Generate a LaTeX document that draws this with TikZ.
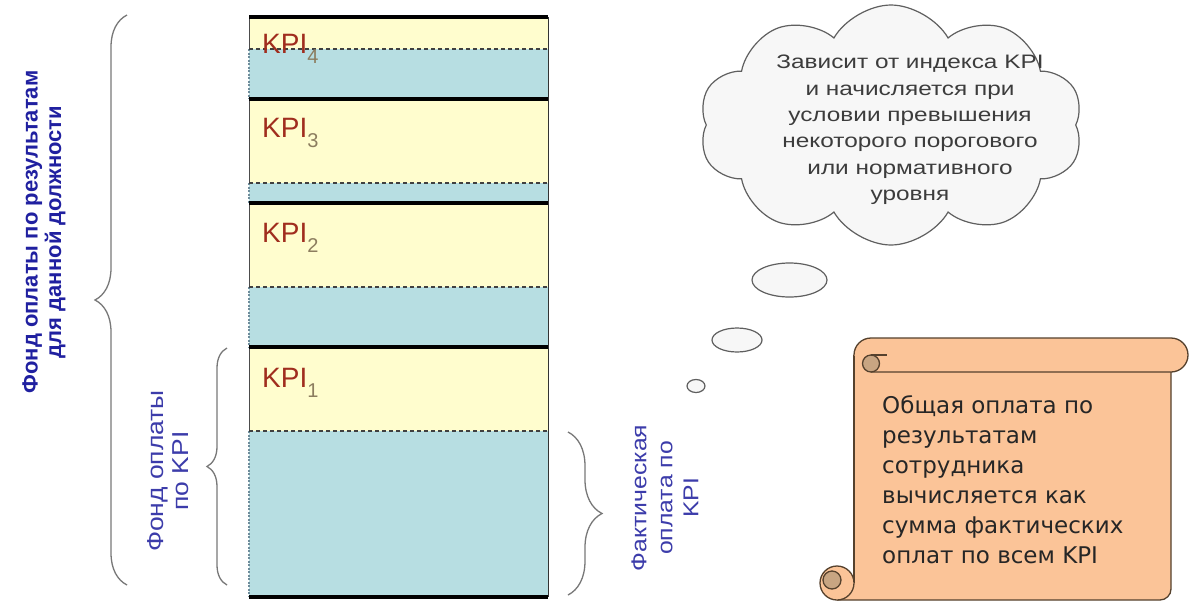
\documentclass[tikz,border=0pt]{standalone}
\usepackage{fontspec}
\setmainfont{Liberation Sans}
\newfontfamily\scrollfont{DejaVu Sans}
\newfontfamily\stretchfont[FakeStretch=1.15]{Liberation Sans}
\newfontfamily\cloudfont[FakeStretch=1.25]{Liberation Sans}
\usetikzlibrary{shapes.symbols,decorations.pathreplacing}
\definecolor{kpiyellow}{RGB}{255,253,206}
\definecolor{kpiblue}{RGB}{183,222,226}
\definecolor{kpired}{RGB}{160,45,30}
\definecolor{subgray}{RGB}{140,125,95}
\definecolor{boldblue}{RGB}{32,32,160}
\definecolor{lblue}{RGB}{60,60,170}
\definecolor{bracegray}{RGB}{120,120,120}
\definecolor{cloudfill}{RGB}{247,247,247}
\definecolor{cloudline}{RGB}{95,95,95}
\definecolor{cloudtext}{RGB}{60,60,60}
\definecolor{scrollfill}{RGB}{251,196,152}
\definecolor{scrollline}{RGB}{85,65,45}
\definecolor{scrolldark}{RGB}{200,165,130}
\definecolor{edgeblue}{RGB}{110,140,155}
\begin{document}
\begin{tikzpicture}[x=1pt,y=-1pt,
  thickline/.style={line width=4pt,black},
  dashline/.style={line width=1.2pt,dash pattern=on 4pt off 3pt,black!75},
  yelbox/.style={fill=kpiyellow},
  bluebox/.style={fill=kpiblue},
  kpilabel/.style={anchor=base west,inner sep=0pt,text=kpired,font=\fontsize{28}{30}\selectfont},
  bracestyle/.style={draw=bracegray,line width=1.3pt,decorate},
  vlabel/.style={rotate=90,align=center,inner sep=0pt},
  scrollstyle/.style={draw=scrollline,line width=1.3pt},
  bubble/.style={draw=cloudline,fill=cloudfill,line width=1.2pt}]
\useasboundingbox[fill=white] (0,0) rectangle (1192,606);
% column fills
\fill[yelbox] (249,17) rectangle (548,49);
\fill[bluebox] (249,49) rectangle (548,99);
\fill[yelbox] (249,99) rectangle (548,183);
\fill[bluebox] (249,183) rectangle (548,203);
\fill[yelbox] (249,203) rectangle (548,287);
\fill[bluebox] (249,287) rectangle (548,347);
\fill[yelbox] (249,347) rectangle (548,431);
\fill[bluebox] (249,431) rectangle (548,597);
% left edge
\draw[line width=1pt,black!70] (249,17) -- (249,49) (249,99) -- (249,183) (249,203) -- (249,287) (249,347) -- (249,431);
\draw[line width=1.2pt,edgeblue,dash pattern=on 2pt off 1.5pt] (249,49) -- (249,99) (249,183) -- (249,203) (249,287) -- (249,347) (249,431) -- (249,597);
% right edge
\draw[line width=1pt,black!80] (548,17) -- (548,597);
% dashed lines
\draw[dashline] (249,49) -- (548,49);
\draw[dashline] (249,183) -- (548,183);
\draw[dashline] (249,287) -- (548,287);
\draw[dashline] (249,431) -- (548,431);
% thick lines
\draw[thickline] (249,17) -- (548,17);
\draw[thickline] (249,99) -- (548,99);
\draw[thickline] (249,203) -- (548,203);
\draw[thickline] (249,347) -- (548,347);
\draw[thickline] (249,597) -- (548,597);
% KPI labels
\node[kpilabel] (k4) at (262,53) {KPI\raisebox{-10pt}{\textcolor{subgray}{\fontsize{20}{20}\selectfont 4}}};
\node[kpilabel] (k3) at (262,137) {KPI\raisebox{-10pt}{\textcolor{subgray}{\fontsize{20}{20}\selectfont 3}}};
\node[kpilabel] (k2) at (262,242) {KPI\raisebox{-10pt}{\textcolor{subgray}{\fontsize{20}{20}\selectfont 2}}};
\node[kpilabel] (k1) at (262,387) {KPI\raisebox{-10pt}{\textcolor{subgray}{\fontsize{20}{20}\selectfont 1}}};
% braces
\coordinate (bigB) at (127,585);
\coordinate (bigT) at (127,15);
\coordinate (smB) at (227,585);
\coordinate (smT) at (227,348);
\coordinate (rT) at (568,432);
\coordinate (rB) at (568,595);
\draw[bracestyle,decoration={brace,amplitude=32pt}] (bigB) -- (bigT);
\draw[bracestyle,decoration={brace,amplitude=20pt}] (smB) -- (smT);
\draw[bracestyle,decoration={brace,amplitude=34pt}] (rT) -- (rB);
% vertical labels
\node[vlabel,text=boldblue,font=\fontsize{22}{23.5}\selectfont\bfseries] (fundall) at (44,232) {Фонд оплаты по результатам\\для данной должности};
\node[vlabel,text=lblue,font=\stretchfont\fontsize{23}{25}\selectfont] (fundkpi) at (168,471) {Фонд оплаты\\по KPI};
\node[vlabel,text=lblue,font=\stretchfont\fontsize{21.5}{26}\selectfont] (actual) at (665,498) {Фактическая\\оплата по\\KPI};
% cloud
\node[cloud,cloud puffs=10,cloud puff arc=120,cloud ignores aspect,minimum width=384pt,minimum height=240pt,bubble,inner sep=0pt] (cloud) at (891,125) {};
\node[align=center,text=cloudtext,font=\cloudfont\fontsize{19.5}{26.4}\selectfont] (cloudtxt) at (910,130) {Зависит от индекса KPI\\и начисляется при\\условии превышения\\некоторого порогового\\или нормативного\\уровня};
\draw[bubble] (789.5,280) ellipse [x radius=37.5,y radius=17];
\draw[bubble] (737,340) ellipse [x radius=25,y radius=12];
\draw[bubble] (696,386) ellipse [x radius=9,y radius=6.5];
% scroll
\fill[scrollfill] (854,355) -- (854,583) -- (837,583) -- (837,600) -- (1160,600) .. controls (1166,600) and (1171,595) .. (1171,589) -- (1171,355) -- cycle;
\draw[scrollstyle] (854,355) -- (854,583);
\draw[scrollstyle] (837,600) -- (1160,600) .. controls (1166,600) and (1171,595) .. (1171,589) -- (1171,372);
\fill[scrollfill] (854,355) .. controls (854,345.6) and (861.6,338) .. (871,338) -- (1171,338) .. controls (1180.4,338) and (1188,345.6) .. (1188,355) .. controls (1188,364.4) and (1180.4,372) .. (1171,372) -- (871,372) -- cycle;
\draw[scrollstyle] (854,355) .. controls (854,345.6) and (861.6,338) .. (871,338) -- (1171,338) .. controls (1180.4,338) and (1188,345.6) .. (1188,355) .. controls (1188,364.4) and (1180.4,372) .. (1171,372) -- (871,372);
\filldraw[scrollstyle,fill=scrolldark] (871,363.5) circle [radius=8.5];
\draw[scrollstyle] (871,355) -- (887,355);
\filldraw[scrollstyle,fill=scrollfill] (837,583) circle [radius=17];
\filldraw[scrollstyle,fill=scrolldark] (832,580) circle [radius=9];
\node[anchor=north west,align=left,inner sep=0pt,text=black!85,font=\scrollfont\fontsize{23}{30}\selectfont] (scrolltxt) at (882,395) {Общая оплата по\\результатам\\сотрудника\\вычисляется как\\сумма фактических\\оплат по всем KPI};
\end{tikzpicture}
\end{document}
